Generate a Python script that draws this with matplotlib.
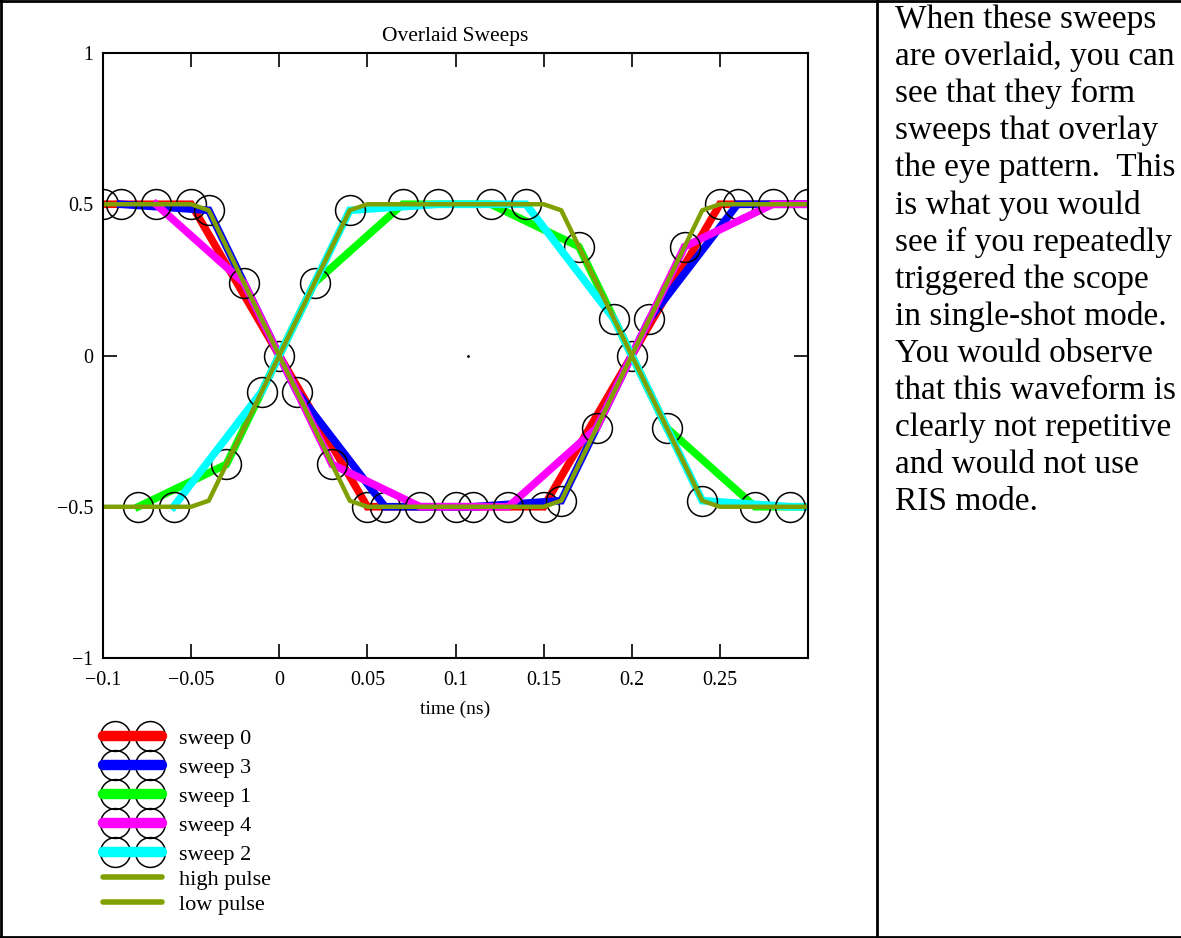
import matplotlib
matplotlib.use("Agg")
import matplotlib.pyplot as plt
from matplotlib.lines import Line2D
from matplotlib.legend_handler import HandlerLine2D, HandlerTuple

plt.rcParams['font.family'] = ['Liberation Serif', 'DejaVu Serif']

# ---------------- data ----------------
sweep0_t = [-0.10, -0.05, 0.00, 0.05, 0.10, 0.15, 0.20, 0.25, 0.30]
sweep0_v = [0.50, 0.50, 0.00, -0.50, -0.50, -0.50, 0.00, 0.50, 0.50]

sweep3_t = [-0.09, -0.04, 0.01, 0.06, 0.11, 0.16, 0.21, 0.26, 0.31]
sweep3_v = [0.50, 0.48, -0.12, -0.50, -0.50, -0.48, 0.12, 0.50, 0.50]

sweep1_t = [-0.08, -0.03, 0.02, 0.07, 0.12, 0.17, 0.22, 0.27, 0.32]
sweep1_v = [-0.50, -0.36, 0.24, 0.50, 0.50, 0.36, -0.24, -0.50, -0.50]

sweep4_t = [-0.07, -0.02, 0.03, 0.08, 0.13, 0.18, 0.23, 0.28, 0.33]
sweep4_v = [0.50, 0.24, -0.36, -0.50, -0.50, -0.24, 0.36, 0.50, 0.50]

sweep2_t = [-0.06, -0.01, 0.04, 0.09, 0.14, 0.19, 0.24, 0.29, 0.34]
sweep2_v = [-0.50, -0.12, 0.48, 0.50, 0.50, 0.12, -0.48, -0.50, -0.50]

pulse_t = [-0.10, -0.05, -0.04, 0.04, 0.05, 0.15, 0.16, 0.24, 0.25, 0.30]
high_pulse_v = [-0.50, -0.50, -0.48, 0.48, 0.50, 0.50, 0.48, -0.48, -0.50, -0.50]
low_pulse_v = [0.50, 0.50, 0.48, -0.48, -0.50, -0.50, -0.48, 0.48, 0.50, 0.50]

stray_dot_t = [0.107]
stray_dot_v = [0.0]

sweep_labels = ['sweep 0', 'sweep 3', 'sweep 1', 'sweep 4', 'sweep 2']
sweep_colors = ['#ff0000', '#0000ff', '#00ff00', '#ff00ff', '#00ffff']
pulse_labels = ['high pulse', 'low pulse']
pulse_color = '#80a000'

x_ticks = [-0.1, -0.05, 0, 0.05, 0.1, 0.15, 0.2, 0.25]
x_tick_labels = ['\u22120.1', '\u22120.05', '0', '0.05', '0.1', '0.15', '0.2', '0.25']
y_ticks = [-1, -0.5, 0, 0.5, 1]
y_tick_labels = ['\u22121', '\u22120.5', '0', '0.5', '1']

title = 'Overlaid Sweeps'
x_label = 'time (ns)'
side_text_lines = [
    'When these sweeps',
    'are overlaid, you can',
    'see that they form',
    'sweeps that overlay',
    'the eye pattern.  This',
    'is what you would',
    'see if you repeatedly',
    'triggered the scope',
    'in single-shot mode.',
    'You would observe',
    'that this waveform is',
    'clearly not repetitive',
    'and would not use',
    'RIS mode.',
]

# ---------------- figure ----------------
W, H = 1181, 938
fig = plt.figure(figsize=(W / 100, H / 100), dpi=100)

ax_l, ax_r, ax_t, ax_b = 103, 808, 53, 658
ax = fig.add_axes([ax_l / W, 1 - ax_b / H, (ax_r - ax_l) / W, (ax_b - ax_t) / H])

sweep_lw = 5.5
msize = 21.5
mew = 1.1

sweeps = [(sweep0_t, sweep0_v), (sweep3_t, sweep3_v), (sweep1_t, sweep1_v),
          (sweep4_t, sweep4_v), (sweep2_t, sweep2_v)]
for (t, v), c in zip(sweeps, sweep_colors):
    ax.plot(t, v, color=c, lw=sweep_lw, marker='o', ms=msize, mfc='none',
            mec='black', mew=mew, solid_joinstyle='miter')

ax.plot(pulse_t, high_pulse_v, color=pulse_color, lw=3.2)
ax.plot(pulse_t, low_pulse_v, color=pulse_color, lw=3.2)
ax.plot(stray_dot_t, stray_dot_v, 'k.', ms=2)

ax.set_xlim(-0.1, 0.3)
ax.set_ylim(-1, 1)
ax.set_xticks(x_ticks)
ax.set_xticklabels(x_tick_labels)
ax.set_yticks(y_ticks)
ax.set_yticklabels(y_tick_labels)
ax.tick_params(direction='in', length=10, width=1.2, top=True, right=True,
               labelsize=14.4, pad=7, colors='black')
ax.tick_params(axis='x', pad=9)
for s in ax.spines.values():
    s.set_linewidth(1.5)
ax.set_title(title, fontsize=15.5, pad=9)
ax.set_xlabel(x_label, fontsize=14, labelpad=8)

# ---------------- legends ----------------
fs_leg = 16
handles1 = []
hmap = {}
for c in sweep_colors:
    mk = Line2D([], [], ls='none', marker='o', ms=msize, mfc='none', mec='black', mew=mew)
    ln = Line2D([], [], color=c, lw=7.5, solid_capstyle='round')
    hmap[mk] = HandlerLine2D(numpoints=2, marker_pad=0.55)
    hmap[ln] = HandlerLine2D(numpoints=2, marker_pad=0.0)
    h = (mk, ln)
    hmap[h] = HandlerTuple(ndivide=1, pad=0)
    handles1.append(h)

leg1 = fig.legend(handles1, sweep_labels, loc='upper left',
                  bbox_to_anchor=(103 / W, 1 - 728 / H), frameon=False,
                  fontsize=fs_leg, handlelength=2.65, handletextpad=0.75,
                  labelspacing=0.385, borderpad=0, borderaxespad=0,
                  handler_map=hmap)

handles2 = []
for _ in pulse_labels:
    ln = Line2D([], [], color=pulse_color, lw=4, solid_capstyle='round')
    hmap[ln] = HandlerLine2D(numpoints=2, marker_pad=0.0)
    handles2.append(ln)
leg2 = fig.legend(handles2, pulse_labels, loc='upper left',
                  bbox_to_anchor=(103 / W, 1 - 869 / H), frameon=False,
                  fontsize=fs_leg, handlelength=2.65, handletextpad=0.75,
                  labelspacing=0.23, borderpad=0, borderaxespad=0,
                  handler_map=hmap)

# ---------------- frame lines ----------------
blw = 2.0
fig.add_artist(Line2D([0, 1], [1 - 1 / H, 1 - 1 / H], transform=fig.transFigure, color='black', lw=blw))
fig.add_artist(Line2D([0, 1], [1.2 / H, 1.2 / H], transform=fig.transFigure, color='black', lw=blw))
fig.add_artist(Line2D([1 / W, 1 / W], [0, 1], transform=fig.transFigure, color='black', lw=blw))
fig.add_artist(Line2D([877 / W, 877 / W], [0, 1], transform=fig.transFigure, color='black', lw=blw))

# ---------------- side text ----------------
for i, line in enumerate(side_text_lines):
    fig.text(895 / W, 1 - (28 + i * 37.1) / H, line, fontsize=24,
             ha='left', va='baseline')

fig.savefig('out.png', dpi=100)
